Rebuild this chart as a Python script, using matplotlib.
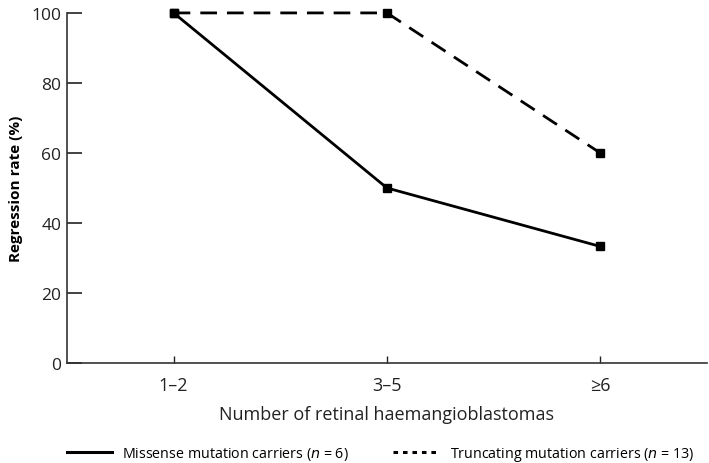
import matplotlib
matplotlib.use("Agg")
import matplotlib.pyplot as plt
from matplotlib.lines import Line2D

categories = ["1–2", "3–5", "≥6"]
missense = [100, 50, 33.3]
truncating = [100, 100, 60]
yticks = [0, 20, 40, 60, 80, 100]

plt.rcParams['font.family'] = ['Open Sans', 'DejaVu Sans']

fig = plt.figure(figsize=(7.09, 4.64), dpi=100)
ax = fig.add_axes([0.0945, 0.2155, 0.9025, 0.7545])

x = list(range(len(categories)))
ax.plot(x, truncating, color='black', lw=2.0, ls=(0, (6, 3.6)), marker='s', ms=6.2, zorder=3, clip_on=False)
ax.plot(x, missense, color='black', lw=2.0, ls='-', marker='s', ms=6.2, zorder=4, clip_on=False)

ax.set_xlim(-0.5, 2.5)
ax.set_ylim(0, 100)
ax.set_xticks(x)
ax.set_xticklabels(categories, fontsize=13)
ax.set_yticks(yticks)
ax.set_yticklabels([str(v) for v in yticks], fontsize=12.5)
ax.tick_params(axis='y', direction='in', length=11, width=1.2, pad=4, colors='#222222')
ax.tick_params(axis='x', direction='in', length=5, width=1, pad=9, colors='#222222')
for s in ['top', 'right']:
    ax.spines[s].set_visible(False)
for s in ['left', 'bottom']:
    ax.spines[s].set_linewidth(1.2)
    ax.spines[s].set_color('#333333')

ax.set_xlabel("Number of retinal haemangioblastomas", fontsize=13, labelpad=8, color='#222222')
ax.set_ylabel("Regression rate (%)", fontsize=11, fontweight='bold', labelpad=6)

fs = 10.3
h1 = [Line2D([], [], color='black', lw=2.2, ls='-')]
h2 = [Line2D([], [], color='black', lw=2.2, ls=(0, (1.5, 1.6)))]
fig.legend(h1, ["Missense mutation carriers ($n$ = 6)"], loc='center left',
           bbox_to_anchor=(67 / 709, 1 - 455 / 464), frameon=False, fontsize=fs,
           handlelength=45 / (fs * 100 / 72), handletextpad=10 / (fs * 100 / 72),
           borderpad=0, borderaxespad=0)
fig.legend(h2, ["Truncating mutation carriers ($n$ = 13)"], loc='center left',
           bbox_to_anchor=(393 / 709, 1 - 455 / 464), frameon=False, fontsize=fs,
           handlelength=47 / (fs * 100 / 72), handletextpad=10 / (fs * 100 / 72),
           borderpad=0, borderaxespad=0)

fig.savefig("out.png", dpi=100)
